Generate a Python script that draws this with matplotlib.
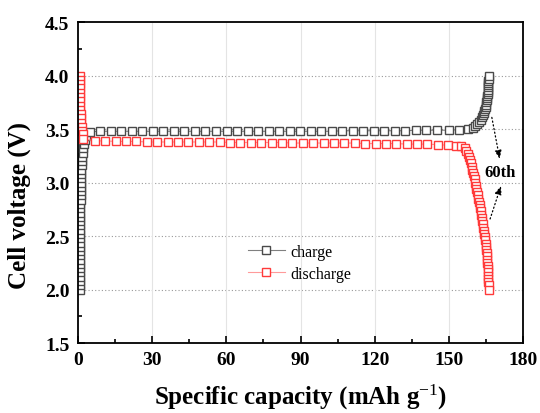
import matplotlib
matplotlib.use('Agg')
import matplotlib.pyplot as plt
from matplotlib.ticker import MultipleLocator

plt.rcParams['font.family'] = ['Liberation Serif', 'DejaVu Serif']
plt.rcParams['mathtext.fontset'] = 'custom'
plt.rcParams['mathtext.rm'] = 'Liberation Serif'
plt.rcParams['mathtext.it'] = 'Liberation Serif:italic'
plt.rcParams['mathtext.bf'] = 'Liberation Serif:bold'

# charge curve (specific capacity, voltage)
charge_x = [0.80, 0.80, 0.81, 0.82, 0.82, 0.83, 0.84, 0.85, 0.86, 0.87, 0.88, 0.89,
            0.90, 0.92, 0.94, 0.96, 0.98, 1.00, 1.03, 1.06, 1.09, 1.12, 1.16, 1.20,
            1.25, 1.30, 1.36, 1.43, 1.51, 1.60, 1.71, 1.84, 2.00, 2.20, 2.50, 2.90, 3.50,
            4.9, 9.1, 13.4, 17.6, 21.9, 26.1, 30.4, 34.6, 38.9, 43.1, 47.4, 51.6,
            55.9, 60.1, 64.4, 68.6, 72.9, 77.1, 81.4, 85.6, 89.9, 94.1, 98.4, 102.6,
            106.9, 111.1, 115.4, 119.6, 123.9, 128.1, 132.4, 136.6, 140.9, 145.3,
            149.8, 153.9, 157.6, 159.6,
            160.6, 161.5, 162.2, 162.8, 163.3, 163.7, 164.0, 164.3, 164.6, 164.8,
            165.0, 165.1, 165.3, 165.4, 165.5, 165.6, 165.7, 165.7, 165.8, 165.8,
            165.9, 165.9, 166.0, 166.0]
charge_v = [2.00, 2.04, 2.08, 2.12, 2.16, 2.20, 2.24, 2.28, 2.32, 2.36, 2.40, 2.44,
            2.48, 2.52, 2.56, 2.60, 2.64, 2.68, 2.72, 2.76, 2.80, 2.84, 2.88, 2.92,
            2.96, 3.00, 3.04, 3.08, 3.12, 3.16, 3.20, 3.24, 3.28, 3.32, 3.36, 3.40, 3.44,
            3.475, 3.48, 3.48, 3.48, 3.48, 3.48, 3.48, 3.48, 3.48, 3.48, 3.48, 3.48,
            3.48, 3.48, 3.48, 3.48, 3.48, 3.48, 3.48, 3.48, 3.48, 3.48, 3.48, 3.48,
            3.485, 3.485, 3.485, 3.485, 3.485, 3.485, 3.485, 3.49, 3.49, 3.49,
            3.49, 3.495, 3.50, 3.51,
            3.53, 3.55, 3.57, 3.59, 3.61, 3.63, 3.65, 3.67, 3.69, 3.71,
            3.73, 3.75, 3.77, 3.79, 3.81, 3.83, 3.85, 3.87, 3.89, 3.91,
            3.93, 3.95, 3.97, 4.00]

# discharge curve
discharge_x = [0.80, 0.80, 0.80, 0.85, 0.90, 0.95, 1.00, 1.05, 1.10, 1.20, 1.30, 1.45,
               1.60, 1.80, 2.00, 2.20,
               6.9, 11.1, 15.3, 19.5, 23.7, 27.9, 32.1, 36.3, 40.5, 44.7, 48.9, 53.1,
               57.3, 61.5, 65.7, 69.9, 74.1, 78.3, 82.5, 86.7, 90.9, 95.1, 99.3, 103.5,
               107.7, 111.9, 116.1, 120.3, 124.5, 128.7, 132.9, 137.1, 141.3, 145.5,
               149.5, 152.8, 155.0, 156.3,
               157.0, 157.6, 158.0, 158.4, 158.8, 159.1, 159.4, 159.7, 160.0, 160.3,
               160.6, 160.9, 161.1, 161.4, 161.6, 161.9, 162.1, 162.4, 162.6, 162.8,
               163.0, 163.3, 163.5, 163.7, 163.9, 164.1, 164.3, 164.5, 164.7, 164.8,
               165.0, 165.1, 165.2, 165.3, 165.4, 165.5, 165.6, 165.7, 165.8, 165.8,
               165.9, 165.9, 166.0, 166.0]
discharge_v = [4.00, 3.96, 3.92, 3.88, 3.84, 3.80, 3.76, 3.72, 3.68, 3.64, 3.60, 3.56,
               3.52, 3.48, 3.45, 3.41,
               3.39, 3.39, 3.385, 3.385, 3.385, 3.38, 3.38, 3.38, 3.38, 3.38, 3.38, 3.38,
               3.38, 3.375, 3.375, 3.375, 3.375, 3.375, 3.375, 3.37, 3.37, 3.37, 3.37, 3.37,
               3.37, 3.37, 3.365, 3.365, 3.365, 3.365, 3.36, 3.36, 3.36, 3.355,
               3.35, 3.345, 3.34, 3.32,
               3.30, 3.27, 3.24, 3.21, 3.18, 3.15, 3.12, 3.09, 3.06, 3.03,
               3.00, 2.97, 2.94, 2.91, 2.88, 2.85, 2.82, 2.79, 2.76, 2.73,
               2.70, 2.67, 2.64, 2.61, 2.58, 2.55, 2.52, 2.49, 2.46, 2.43,
               2.40, 2.37, 2.34, 2.31, 2.28, 2.25, 2.22, 2.19, 2.16, 2.13,
               2.10, 2.07, 2.04, 2.00]

fig = plt.figure(figsize=(5.4, 4.14), dpi=100)
ax = fig.add_axes([0.144, 0.169, 0.825, 0.775])

ax.plot(charge_x, charge_v, color='#808080', lw=0.8, marker='s', ms=5.8,
        mfc='white', mec='#4a4a4a', mew=1.0, label='charge')
ax.plot(discharge_x, discharge_v, color='#ff9a9a', lw=0.8, marker='s', ms=5.8,
        mfc='white', mec='#ff3a3a', mew=1.0, label='discharge')

ax.set_xlim(0, 180)
ax.set_ylim(1.5, 4.5)
ax.xaxis.set_major_locator(MultipleLocator(30))
ax.xaxis.set_minor_locator(MultipleLocator(15))
ax.yaxis.set_major_locator(MultipleLocator(0.5))
ax.yaxis.set_minor_locator(MultipleLocator(0.25))
ax.yaxis.set_major_formatter(plt.FormatStrFormatter('%.1f'))
ax.tick_params(which='both', direction='in', top=False, right=False, width=1.2)
ax.tick_params(which='major', length=5, labelsize=14, pad=6)
ax.tick_params(which='minor', length=3)
for lab in ax.get_xticklabels() + ax.get_yticklabels():
    lab.set_fontweight('bold')
for sp in ax.spines.values():
    sp.set_linewidth(1.3)

for yv in [2.0, 2.5, 3.0, 3.5, 4.0]:
    ax.axhline(yv, color='#999999', lw=0.8, ls=(0, (1, 2)), zorder=0)
for xv in [30, 60, 90, 120, 150]:
    ax.axvline(xv, color='#e4e4e4', lw=0.8, zorder=0)

ax.set_xlabel(r'Specific capacity (mAh g$^{-1}$)', fontsize=18, fontweight='bold')
ax.set_ylabel('Cell voltage (V)', fontsize=18, fontweight='bold')
ax.xaxis.set_label_coords(0.5, -0.122)
ax.yaxis.set_label_coords(-0.104, 0.433)

ax.legend(loc='center left', bbox_to_anchor=(0.382, 0.25), frameon=False,
          fontsize=11.5, numpoints=1, handlelength=2.3, handletextpad=0.35,
          labelspacing=0.35, borderpad=0, borderaxespad=0)

ax.text(170.7, 3.10, '60th', fontsize=12, fontweight='bold', ha='center', va='center')
arrow = dict(arrowstyle='-|>,head_length=0.5,head_width=0.2', ls=(0, (1, 2)),
             color='black', lw=0.9, shrinkA=0, shrinkB=0)
ax.annotate('', xy=(170.5, 3.22), xytext=(167.3, 3.61), arrowprops=arrow)
ax.annotate('', xy=(171.0, 2.97), xytext=(166.6, 2.66), arrowprops=arrow)

fig.savefig('out.png', dpi=100)
